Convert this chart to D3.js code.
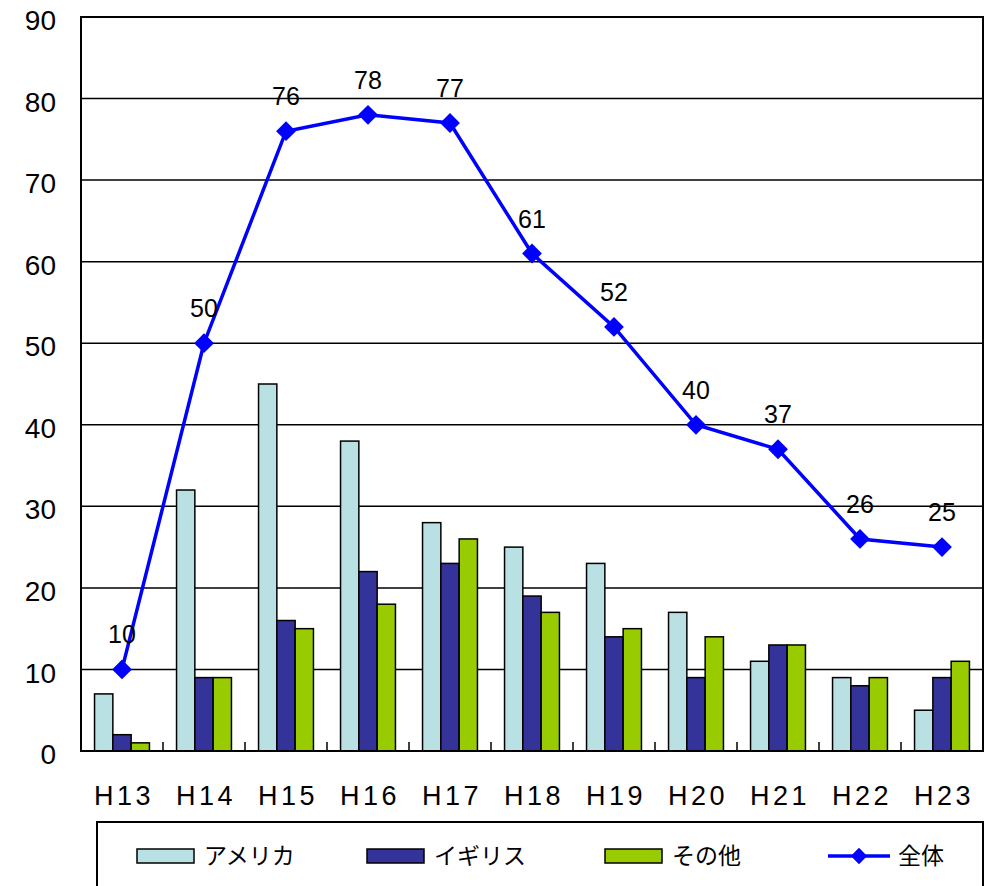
<!DOCTYPE html>
<html>
<head>
<meta charset="utf-8">
<script src="https://cdn.jsdelivr.net/npm/d3@7"></script>
<style>
  body { margin: 0; background: #fff; }
  svg text { font-family: "Liberation Sans", Arial, "Noto Sans CJK JP", sans-serif; fill: #000; }
  .jp { font-family: "Noto Sans CJK JP", sans-serif; }
</style>
</head>
<body>
<svg width="989" height="886"></svg>
<script>
// data
const years = ['H13', 'H14', 'H15', 'H16', 'H17', 'H18', 'H19', 'H20', 'H21', 'H22', 'H23'];
const america = [7, 32, 45, 38, 28, 25, 23, 17, 11, 9, 5];
const england = [2, 9, 16, 22, 23, 19, 14, 9, 13, 8, 9];
const others = [1, 9, 15, 18, 26, 17, 15, 14, 13, 9, 11];
const total = [10, 50, 76, 78, 77, 61, 52, 40, 37, 26, 25];
const yTicks = [0, 10, 20, 30, 40, 50, 60, 70, 80, 90];

const seriesNames = ['アメリカ', 'イギリス', 'その他'];
const barColors = ['#b9e1e4', '#333399', '#99cc00'];
const lineName = '全体';

// plot area
const plotLeft = 81, plotRight = 983, plotTop = 17, plotBottom = 751;

const svg = d3.select('svg');

const x = d3.scaleBand()
    .domain(years)
    .range([plotLeft, plotRight]);

const xInner = d3.scaleBand()
    .domain(d3.range(3))
    .range([0, x.bandwidth()])
    .paddingOuter(0.74)
    .paddingInner(0);

const y = d3.scaleLinear()
    .domain([0, 90])
    .range([plotBottom, plotTop]);

// grid lines
svg.append('g')
    .selectAll('line')
    .data(yTicks.filter(d => d > 0))
    .enter()
    .append('line')
    .attr('x1', plotLeft)
    .attr('x2', plotRight)
    .attr('y1', d => y(d))
    .attr('y2', d => y(d))
    .attr('stroke', '#000')
    .attr('stroke-width', 1.5);

// y labels
svg.append('g')
    .selectAll('text')
    .data(yTicks)
    .enter()
    .append('text')
    .attr('x', 56)
    .attr('y', d => y(d) + 3)
    .attr('dy', '0.36em')
    .attr('text-anchor', 'end')
    .attr('font-size', 28)
    .text(d => d);

// bars
const barData = [america, england, others];
const groups = svg.append('g')
    .selectAll('g')
    .data(years)
    .enter()
    .append('g')
    .attr('transform', d => `translate(${x(d)},0)`);

groups.selectAll('rect')
    .data((d, i) => barData.map((s, k) => ({ k: k, v: s[i] })))
    .enter()
    .append('rect')
    .attr('x', d => xInner(d.k))
    .attr('y', d => y(d.v))
    .attr('width', xInner.bandwidth())
    .attr('height', d => y(0) - y(d.v))
    .attr('fill', d => barColors[d.k])
    .attr('stroke', '#000')
    .attr('stroke-width', 1.5);

// plot frame
svg.append('rect')
    .attr('x', plotLeft)
    .attr('y', plotTop)
    .attr('width', plotRight - plotLeft)
    .attr('height', plotBottom - plotTop)
    .attr('fill', 'none')
    .attr('stroke', '#000')
    .attr('stroke-width', 2);

// x axis ticks (pointing up)
svg.append('g')
    .selectAll('line')
    .data(years.slice(1))
    .enter()
    .append('line')
    .attr('x1', d => x(d))
    .attr('x2', d => x(d))
    .attr('y1', plotBottom)
    .attr('y2', plotBottom - 9)
    .attr('stroke', '#000')
    .attr('stroke-width', 1.5);

svg.append('g')
    .selectAll('text')
    .data(years)
    .enter()
    .append('text')
    .attr('x', d => x(d) + x.bandwidth() / 2 + 2)
    .attr('y', 805)
    .attr('text-anchor', 'middle')
    .attr('font-size', 27)
    .attr('letter-spacing', 3.5)
    .text(d => d);

// total line
const cx = (d, i) => x(years[i]) + x.bandwidth() / 2;
const line = d3.line()
    .x((d, i) => cx(d, i))
    .y(d => y(d));

svg.append('path')
    .datum(total)
    .attr('d', line)
    .attr('fill', 'none')
    .attr('stroke', '#0000ff')
    .attr('stroke-width', 3.5);

const diamond = d3.symbol().type(d3.symbolDiamond2).size(250);

svg.append('g')
    .selectAll('path')
    .data(total)
    .enter()
    .append('path')
    .attr('d', diamond)
    .attr('transform', (d, i) => `translate(${cx(d, i)},${y(d)})`)
    .attr('fill', '#0000ff');

svg.append('g')
    .selectAll('text')
    .data(total)
    .enter()
    .append('text')
    .attr('x', (d, i) => cx(d, i))
    .attr('y', d => y(d) - 26)
    .attr('text-anchor', 'middle')
    .attr('font-size', 25)
    .text(d => d);

// legend
svg.append('rect')
    .attr('x', 97)
    .attr('y', 822)
    .attr('width', 886)
    .attr('height', 100)
    .attr('fill', 'none')
    .attr('stroke', '#000')
    .attr('stroke-width', 2);

const swatchX = [137, 367, 605];
seriesNames.forEach((name, k) => {
  svg.append('rect')
      .attr('x', swatchX[k])
      .attr('y', 849)
      .attr('width', 57)
      .attr('height', 14)
      .attr('fill', barColors[k])
      .attr('stroke', '#000')
      .attr('stroke-width', 1.5);
  svg.append('text')
      .attr('class', 'jp')
      .attr('x', swatchX[k] + 67)
      .attr('y', 856)
      .attr('dy', '0.36em')
      .attr('font-size', 23)
      .text(name);
});

svg.append('line')
    .attr('x1', 828)
    .attr('x2', 890)
    .attr('y1', 856)
    .attr('y2', 856)
    .attr('stroke', '#0000ff')
    .attr('stroke-width', 3.5);
svg.append('path')
    .attr('d', d3.symbol().type(d3.symbolDiamond2).size(170))
    .attr('transform', 'translate(859,856)')
    .attr('fill', '#0000ff');
svg.append('text')
    .attr('class', 'jp')
    .attr('x', 898)
    .attr('y', 856)
    .attr('dy', '0.36em')
    .attr('font-size', 23)
    .text(lineName);
</script>
</body>
</html>
